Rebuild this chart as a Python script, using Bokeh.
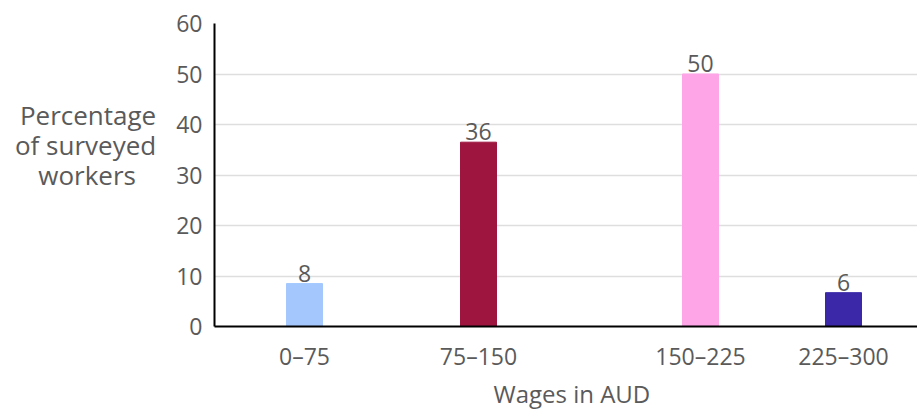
from bokeh.plotting import figure
from bokeh.models import FixedTicker, Range1d, ColumnDataSource, Title
from bokeh.core.properties import value
from bokeh.embed import file_html
from bokeh.resources import INLINE

categories = ["0–75", "75–150", "150–225", "225–300"]
heights = [8.5, 36.5, 50.0, 6.7]
value_labels = ["8", "36", "50", "6"]
colors = ["#A4C8FE", "#9E1640", "#FDA5E6", "#3A28A8"]
x_pos = [90, 264, 486, 629]
y_ticks = [0, 10, 20, 30, 40, 50, 60]
y_title_lines = ["Percentage", "of surveyed", "workers\u00a0\u00a0\u00a0", "\u00a0", "\u00a0"]

FONT = "Open Sans"
GRAY = "#5a5a5a"

p = figure(width=917, height=409, output_backend="svg", toolbar_location=None,
           x_range=Range1d(0, 703), y_range=Range1d(0, 60),
           min_border_left=214, min_border_right=0, min_border_top=23,
           min_border_bottom=0)
p.outline_line_color = None

src = ColumnDataSource(dict(x=x_pos, top=heights, color=colors, lab=value_labels))
p.vbar(x="x", top="top", bottom=0, width=36, color="color", source=src)
p.text(x="x", y="top", text="lab", source=src, text_align="center",
       text_baseline="bottom", y_offset=-2, text_font=value(FONT),
       text_font_size="23px", text_color=GRAY)

# axes
p.yaxis.ticker = FixedTicker(ticks=y_ticks)
p.yaxis.major_tick_line_color = None
p.yaxis.minor_tick_line_color = None
p.yaxis.major_label_standoff = 6
p.yaxis.major_label_text_font = FONT
p.yaxis.major_label_text_font_size = "23px"
p.yaxis.major_label_text_color = GRAY
p.yaxis.axis_line_color = "black"
p.yaxis.axis_line_width = 2
p.yaxis.axis_label = "\n".join(y_title_lines)
p.yaxis.axis_label_orientation = "horizontal"
p.yaxis.axis_label_standoff = 17
p.yaxis.axis_label_text_font = FONT
p.yaxis.axis_label_text_font_size = "26px"
p.yaxis.axis_label_text_font_style = "normal"
p.yaxis.axis_label_text_color = GRAY
p.yaxis.axis_label_text_line_height = 0.84

p.xaxis.ticker = FixedTicker(ticks=x_pos)
p.xaxis.major_label_overrides = {x: c for x, c in zip(x_pos, categories)}
p.xaxis.major_tick_line_color = None
p.xaxis.minor_tick_line_color = None
p.xaxis.major_label_standoff = 7
p.xaxis.major_label_text_font = FONT
p.xaxis.major_label_text_font_size = "23px"
p.xaxis.major_label_text_color = GRAY
p.xaxis.axis_line_color = "black"
p.xaxis.axis_line_width = 2

p.xgrid.grid_line_color = None
p.ygrid.ticker = FixedTicker(ticks=[10, 20, 30, 40, 50])
p.ygrid.grid_line_color = "#dedede"
p.ygrid.grid_line_width = 1.5

p.add_layout(Title(text="Wages in AUD", align="left", offset=279, standoff=0,
                   text_font=FONT, text_font_size="24px", text_font_style="normal",
                   text_color=GRAY), "below")

open("out.html", "w").write(file_html(p, INLINE))
